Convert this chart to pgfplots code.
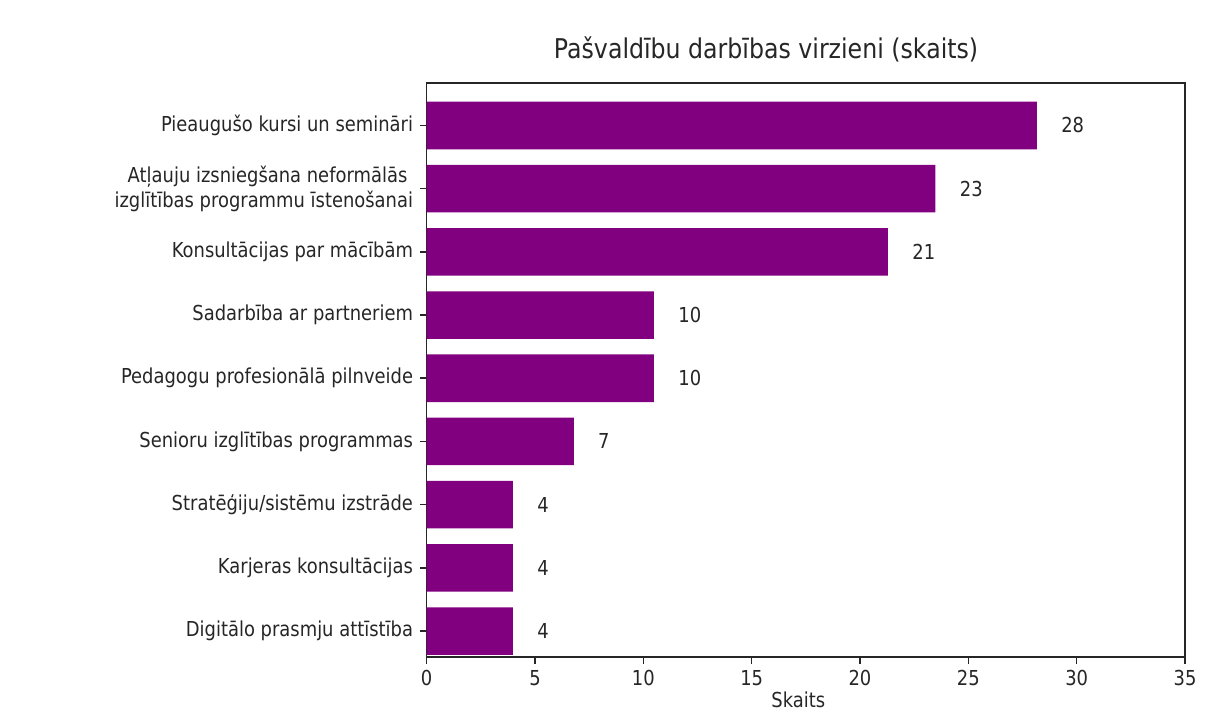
\documentclass[border=0pt]{standalone}
\usepackage{fontspec}
\setmainfont{DejaVu Sans}[FakeStretch=0.87]
\usepackage{pgfplots}
\pgfplotsset{compat=1.18}
\definecolor{barpurple}{HTML}{800080}
\definecolor{axisgray}{HTML}{262626}
\begin{document}
\begin{tikzpicture}
\useasboundingbox (-213.35pt,-30.5pt) rectangle (398.7pt,328.5pt);
\begin{axis}[
  at={(0pt,0pt)}, anchor=south west,
  scale only axis, width=379.2pt, height=287pt,
  xbar, bar width=0.753,
  xmin=0, xmax=35, ymin=-0.672, ymax=8.41, y dir=reverse,
  xtick={0,5,...,35},
  ytick={0,...,8},
  yticklabels={{Pieaugušo kursi un semināri},{Atļauju izsniegšana neformālās\kern2.85pt\\izglītības programmu īstenošanai},{Konsultācijas par mācībām},{Sadarbība ar partneriem},{Pedagogu profesionālā pilnveide},{Senioru izglītības programmas},{Stratēģiju/sistēmu izstrāde},{Karjeras konsultācijas},{Digitālo prasmju attīstība}},
  tick align=outside, xtick pos=left, ytick pos=left,
  major tick length=3.3pt,
  tick style={line width=0.8pt, color=axisgray},
  axis line style={line width=0.8pt, color=axisgray},
  /pgf/number format/assume math mode=true,
  yticklabel style={align=right, font=\fontsize{10.3}{12.4}\selectfont, text=black!85},
  xticklabel style={font=\fontsize{10.3}{12.4}\selectfont, text=black!85},
  title={Pašvaldību darbības virzieni (skaits)},
  title style={at={(axis description cs:0.4475,1)}, anchor=base, yshift=6pt, font=\fontsize{13.6}{16}\selectfont, text=black!85},
  xlabel={Skaits},
  xlabel style={at={(axis description cs:0.49,0)}, anchor=center, yshift=-21.5pt, font=\fontsize{10.3}{12.4}\selectfont, text=black!85},
  axis background/.style={fill=white},
]
\addplot[fill=barpurple, draw=none, point meta=explicit,
  nodes near coords={\pgfmathprintnumber{\pgfplotspointmeta}},
  every node near coord/.append style={anchor=west, xshift=8.7pt, font=\fontsize{10.3}{12.4}\selectfont, text=black!85}]
  coordinates {(28.16,0)[28] (23.48,1)[23] (21.29,2)[21] (10.49,3)[10] (10.49,4)[10] (6.79,5)[7] (3.98,6)[4] (3.98,7)[4] (3.98,8)[4]};
\end{axis}
\end{tikzpicture}
\end{document}
